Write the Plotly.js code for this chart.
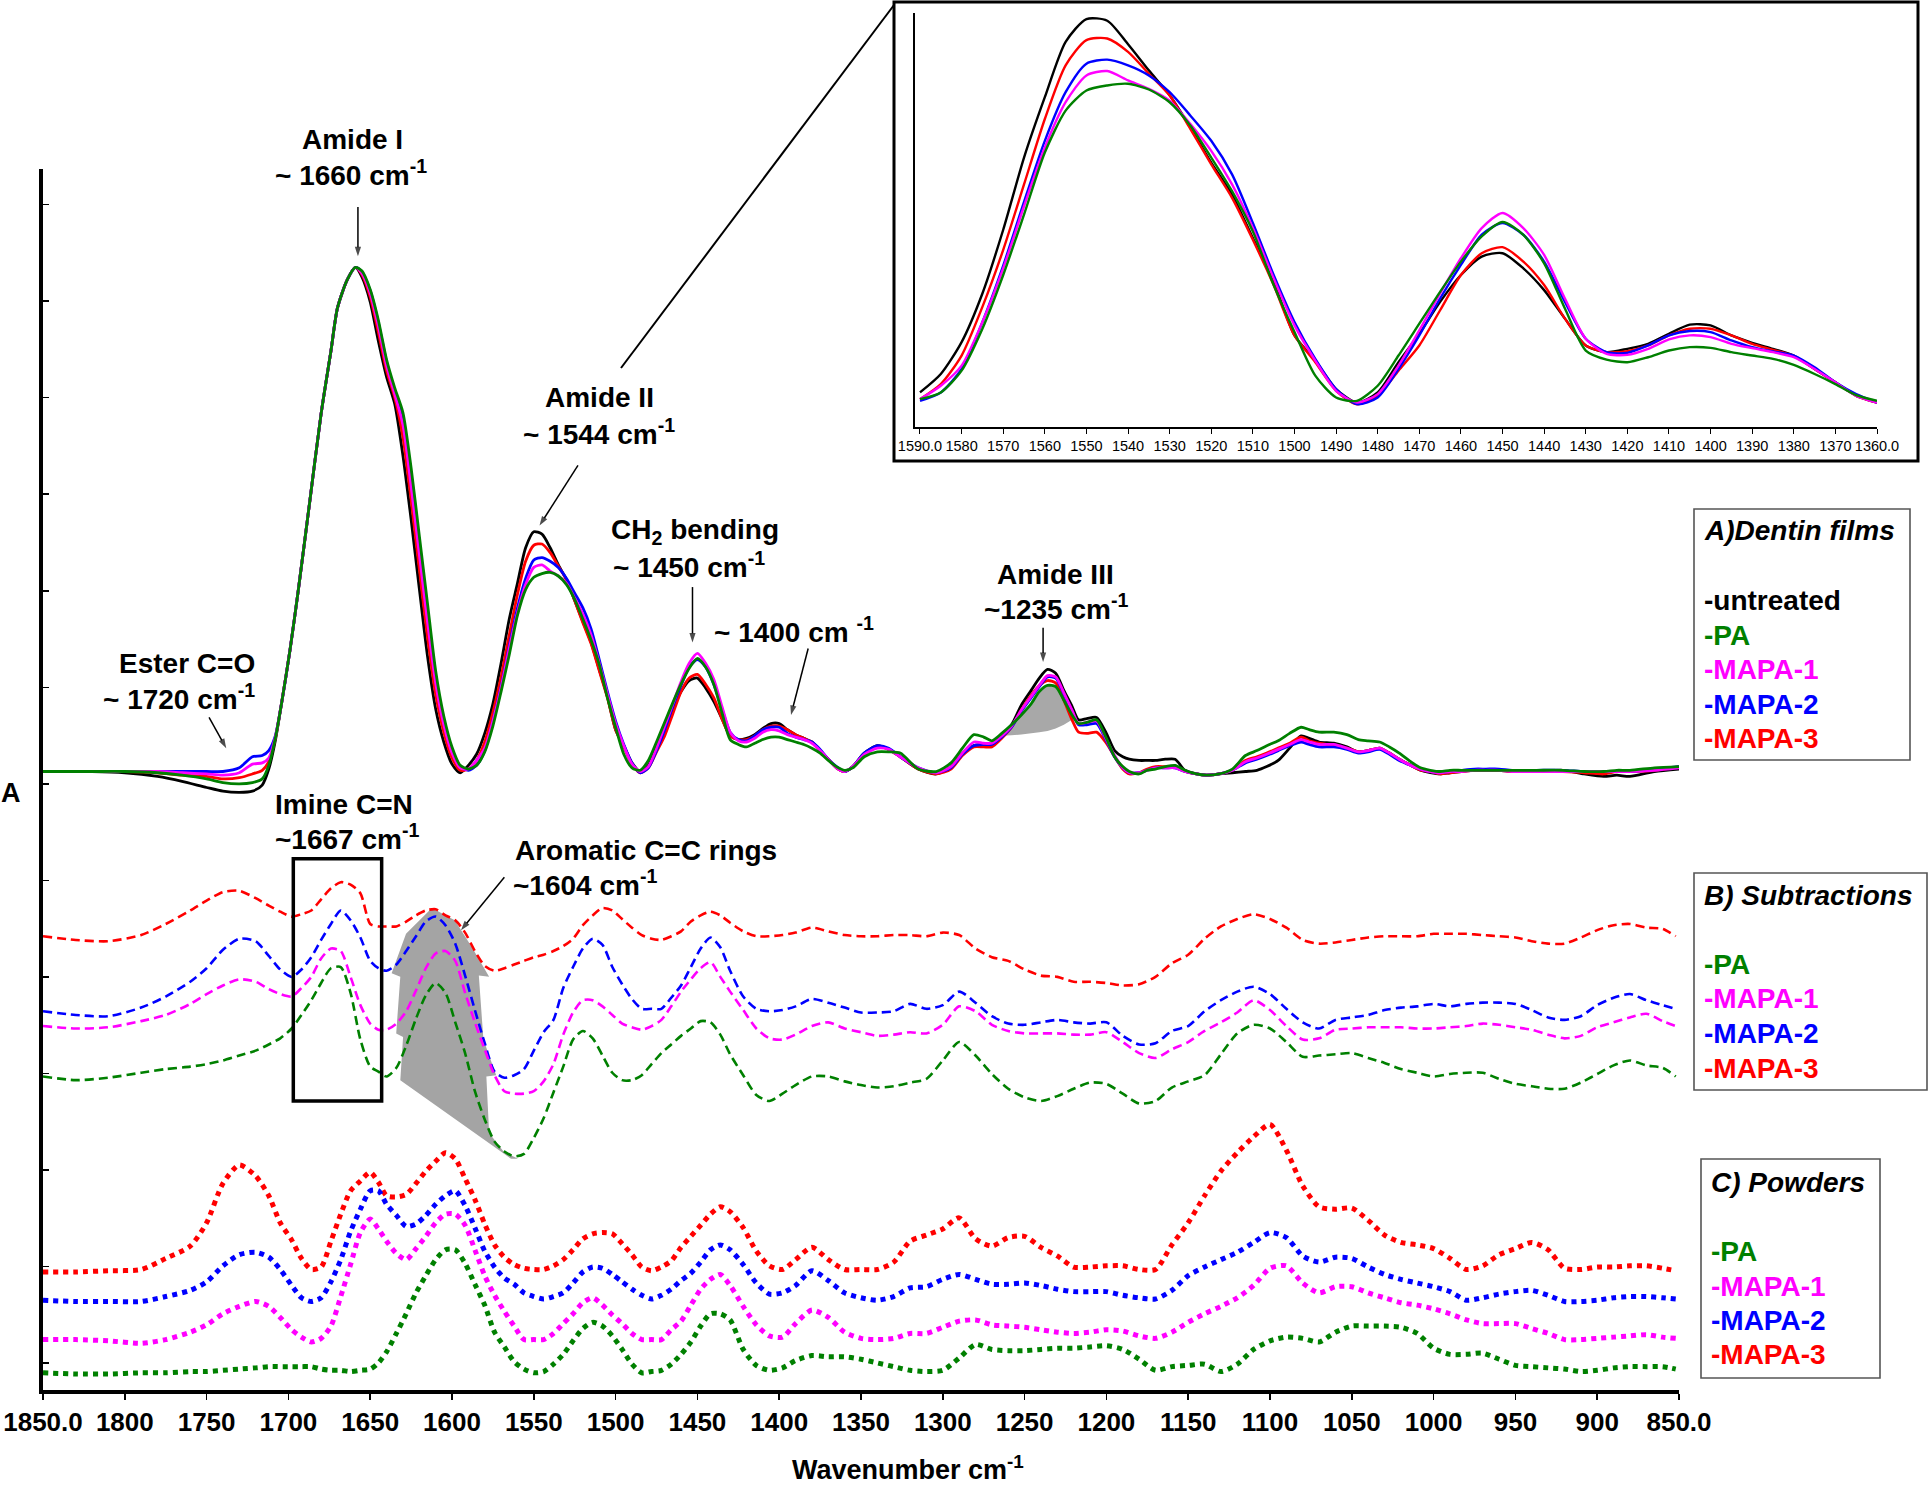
<!DOCTYPE html>
<html><head><meta charset="utf-8">
<script src="https://cdn.plot.ly/plotly-3.0.1.min.js"></script>
<style>html,body{margin:0;padding:0;background:#fff}</style>
</head><body>
<div id="chart" style="width:1929px;height:1492px"></div>
<script>
// ---------------- DATA ----------------
// Panel A: dentin films (solid lines), wavenumber grid
const wnFilms = [1850,1820,1800,1780,1765,1750,1740,1730,1722,1716,1712,1708,1704,1699,1694,1687,1680,1674,1670,1664,1659,1655,1650,1645,1640,1635,1630,1625,1620,1615,1610,1605,1600,1595,
1590,1585,1580,1575,1570,1565,1560,1555,1550,1545,1540,1535,1530,1525,1520,1515,1510,1505,1500,1495,1490,1485,1480,1475,1470,1465,1460,1455,1450,1445,1440,1435,1430,1425,1420,1415,1410,1405,1400,1395,1390,1385,1380,1375,1370,1365,1360,
1355,1348,1340,1333,
1326,1315,1304,1295,1288,1281,1275,1270,1264,1258,1252,1246,1241,1236,1231,1226,1221,1217,1212,1206,1200,1195,1190,1186,1180,1175,1170,1164,1158,1152,1145,1139,1131,1123,1115,1108,1102,1095,1088,1081,1076,1070,1061,1053,1046,1040,1033,1027,1021,1014,1008,1002,996,990,983,975,968,960,952,937,921,908,896,888,880,865,850];

const filmUntreated = [503,503,502,499,495,490,487,486,487,492,505,528,560,602,650,722,794,845,880,903,913,905,885,853,824,802,760,708,652,597,554,527,509,502,
508,517,534,558,591,627,656,685,698,696,685,671,659,642,625,608,586,564,537,524,510,503,508,523,538,554,568,577,579,571,560,546,532,529,530,533,538,542,542,537,533,530,527,520,513,506,503,
507,518,524,521,
515,505,501,507,518,524,525,526,533,541,557,569,579,586,583,569,556,545,546,547,534,520,515,513,512,512,512,513,513,504,501,500,501,502,503,504,507,512,522,532,530,527,526,523,519,520,522,518,513,508,504,502,501,502,503,504,504,504,503,503,504,501,499,500,499,503,505];

const filmPA = [503,503,503,502,500,497,494,493,494,497,508,530,560,602,650,722,794,845,880,903,913,910,895,870,838,815,795,750,695,640,585,548,523,508,
505,508,519,540,568,598,630,651,661,664,665,662,655,643,627,610,590,563,539,517,506,504,512,527,543,559,574,587,595,588,574,551,529,525,523,526,529,531,531,529,527,525,522,518,512,507,504,
506,515,519,519,
518,505,503,510,522,533,531,528,534,541,549,558,568,573,572,561,549,542,543,545,530,515,507,503,501,504,505,507,508,504,501,500,501,505,516,520,524,528,534,539,537,535,535,533,529,528,527,523,518,511,506,504,503,504,504,504,504,504,504,504,504,503,503,504,504,506,507];

const filmMAPA1 = [503,503,503,503,502,501,500,502,509,510,514,531,560,602,650,722,794,845,880,903,913,908,892,865,833,810,785,735,680,625,575,541,518,506,
505,512,522,544,571,603,632,655,669,671,666,662,656,644,631,614,591,566,542,524,509,503,507,522,540,558,576,591,599,591,578,556,535,528,527,530,535,537,536,533,531,529,526,520,513,506,503,
507,517,522,521,
515,506,502,507,518,527,526,526,532,540,553,564,573,581,580,567,553,542,543,544,529,516,506,502,502,504,506,506,506,503,501,500,501,504,511,514,517,521,525,529,527,525,525,522,519,520,522,518,513,508,505,503,502,503,503,504,504,504,503,503,503,503,503,503,503,504,506];

const filmMAPA2 = [503,503,503,503,503,503,503,506,515,516,520,532,560,602,650,722,794,845,880,903,913,909,894,868,836,812,790,742,688,632,580,545,521,507,
504,508,520,544,572,605,636,660,675,677,674,669,660,648,636,619,594,568,544,525,510,502,506,520,537,556,573,588,594,588,574,554,535,529,528,532,537,539,539,534,531,529,527,521,513,507,503,
507,518,524,522,
515,506,502,506,517,524,525,525,531,539,552,563,572,580,579,566,552,541,541,542,528,515,506,502,502,504,506,506,506,503,501,500,501,504,510,513,516,520,524,527,525,523,523,521,518,519,521,517,512,508,505,503,502,503,504,505,505,505,504,504,504,503,503,503,503,505,507];

const filmMAPA3 = [503,503,503,502,500,499,497,498,501,504,511,530,560,602,650,722,794,845,880,903,913,907,889,860,829,807,775,724,668,613,566,535,514,504,
505,512,527,551,580,614,647,674,687,688,681,670,659,642,624,607,585,563,537,523,509,502,506,519,532,550,568,579,582,574,563,546,532,529,529,532,537,540,540,537,533,530,527,520,513,506,503,
507,517,523,521,
515,505,501,505,516,523,523,523,530,539,553,565,573,577,575,561,545,535,534,535,526,515,505,501,502,505,507,507,507,503,501,500,501,504,512,515,518,522,526,531,528,526,524,522,519,520,522,518,513,508,504,503,501,502,503,504,504,504,503,503,503,502,501,503,503,504,507];

// Amide III shaded area (under PA curve)
const amide3ShadeWn = [1264,1258,1252,1246,1241,1236,1231,1226,1221];
const amide3ShadeTop = [534,541,549,558,568,573,572,561,549];
const amide3ShadeBottom = [532,532.5,533,534,535,536,538,541,545];

// Panels B and C share a wavenumber grid
const wnGrid = [1850,1830,1810,1790,1775,1760,1750,1740,1730,1720,1712,1705,1698,1692,1686,1680,1674,1668,1662,1656,1650,1645,1640,1634,1628,1622,1616,1610,1604,1598,1592,1586,1580,1574,1568,1562,1556,1550,1544,1538,1532,1526,1520,1514,1508,1502,1496,1490,1484,1478,1472,1466,1460,1454,1448,1442,1436,1430,1422,1414,1406,1398,1390,1380,1370,1360,1350,1340,1330,1320,1310,
1300,1290,1280,1270,1260,1250,1240,1230,1220,1210,1200,1190,1180,1170,1160,1150,1140,1130,1120,1110,1100,1090,1080,1070,1060,1050,1040,1030,1020,1010,1000,990,980,970,960,950,940,930,920,910,900,890,880,870,860,852];

// Panel B: subtractions (dashed)
const subMAPA3 = [369,366,365,370,379,390,398,405,406,400,394,389,385,387,390,399,408,413,411,404,379,377,377,377,381,386,390,391,386,382,372,357,345,341,343,346,349,352,354,357,361,367,378,386,392,390,383,376,370,367,366,369,373,381,386,389,386,380,373,369,369,370,372,376,373,370,369,369,370,370,369,
372,370,359,352,349,342,337,336,332,332,331,329,330,336,347,354,367,377,383,387,383,376,366,363,364,366,368,369,369,369,371,371,371,370,369,368,365,363,363,368,374,378,379,376,375,369];
const subMAPA2 = [308,305,304,311,320,332,343,358,367,365,353,342,336,342,352,366,379,390,382,368,349,343,341,346,357,369,381,385,378,363,337,309,282,259,254,256,261,276,291,301,327,344,359,367,362,344,330,318,310,310,310,319,329,344,359,368,360,341,320,310,308,309,312,318,315,311,307,307,308,314,310,
313,324,315,304,298,297,299,301,299,298,299,288,281,282,292,296,308,317,324,328,322,310,299,294,301,303,305,309,311,312,314,312,314,315,315,314,309,303,301,304,313,319,322,317,313,310];
const subMAPA1 = [296,294,295,300,305,314,322,329,334,332,326,322,320,327,336,351,359,357,336,313,298,293,293,298,308,325,343,355,357,349,323,299,277,256,243,241,241,243,251,265,289,307,317,317,312,305,298,295,293,296,301,312,324,334,343,348,336,324,309,294,286,285,289,296,299,294,291,288,289,291,290,
297,312,308,297,292,290,290,290,289,289,291,283,274,270,277,283,292,299,307,317,309,296,285,286,293,294,295,295,295,294,294,295,296,298,297,295,293,289,286,288,295,299,303,306,300,296];
const subPA = [255,252,254,258,261,263,265,268,272,276,281,286,294,305,317,331,343,344,323,285,263,259,255,262,280,302,321,331,323,299,274,243,220,202,194,190,192,205,221,242,263,285,292,286,272,258,252,252,256,265,274,281,288,294,300,299,289,273,256,240,235,241,248,255,255,251,248,246,247,250,253,
268,283,272,257,245,238,235,239,245,250,249,241,233,235,246,251,256,273,290,297,294,283,271,272,273,274,270,266,261,258,255,257,258,258,253,249,247,245,245,250,257,264,268,264,262,255];

// Aromatic C=C shaded area outline
const aromShadeWn = [1628.1,1612.3,1598.3,1587.8,1577.3,1583.6,1580.8,1573.0,1579.0,1577.3,1568.5,1559.7,1563.9,1631.6,1629.9,1634.1,1631.6,1636.9];
const aromShadeV  = [371,392,382,360,336,337,285,256,255,209,194,188,188,252,287,290,336,339];

// Panel C: powders (dotted)
const powMAPA3 = [96,96,97,98,107,117,136,168,183,174,158,136,122,107,98,100,121,143,162,170,177,169,158,157,159,168,178,186,193,188,172,155,135,118,108,102,99,98,98,101,106,114,123,127,128,127,119,110,100,97,100,105,116,125,134,143,149,145,132,113,101,98,106,116,106,98,98,98,104,121,126,
131,140,123,117,124,125,116,109,100,100,101,101,98,98,118,136,158,178,193,206,216,195,166,149,147,148,138,126,120,118,115,107,98,101,110,115,120,114,99,98,100,100,101,101,99,97];
const powMAPA2 = [73,72,72,72,76,81,88,101,110,112,108,98,85,75,72,75,88,106,129,147,162,162,151,142,133,135,142,151,158,162,150,132,113,100,91,86,79,76,74,76,79,87,96,100,99,94,88,82,77,74,77,82,89,95,104,114,118,114,102,87,78,79,85,97,89,79,75,73,76,83,84,
90,94,90,86,86,87,85,82,80,80,80,77,75,74,81,93,100,106,112,120,128,124,109,104,108,107,100,94,90,87,84,80,73,75,78,80,81,77,72,72,73,75,76,76,75,74];
const powMAPA1 = [41,41,40,38,41,47,53,62,68,72,68,59,49,43,39,42,52,76,102,128,139,131,121,111,106,115,125,136,143,143,134,114,93,77,64,52,41,41,41,46,54,62,71,75,69,61,54,46,41,41,41,49,56,69,82,90,94,85,68,53,44,43,54,65,59,47,42,41,42,46,46,
51,56,57,53,52,51,49,47,46,47,49,48,44,42,47,55,62,68,75,85,99,101,87,79,84,84,79,75,71,69,66,62,57,54,54,54,50,46,41,41,42,43,44,45,43,42];
const powPA = [14,13,13,14,14,15,15,16,17,18,19,19,19,19,19,17,16,16,15,16,17,22,31,46,62,79,93,106,114,114,103,86,69,47,35,23,17,14,15,21,29,40,50,55,52,44,33,21,14,15,16,21,29,39,52,62,62,57,33,20,16,18,24,28,27,27,25,22,19,16,15,
16,26,37,33,32,32,33,34,34,35,36,33,25,16,19,20,21,15,21,33,40,43,42,39,47,52,52,52,51,46,34,29,29,30,25,20,19,18,17,15,16,18,19,19,19,17];

// Inset (1590-1360 cm-1 zoom)
const wnInset = [1590,1585,1580,1575,1570,1565,1560,1555,1550,1545,1540,1535,1530,1525,1520,1515,1510,1505,1500,1495,1490,1485,1480,1475,1470,1465,1460,1455,1450,1445,1440,1435,1430,1425,1420,1415,1410,1405,1400,1395,1390,1385,1380,1375,1370,1365,1360];
const insetUntreated = [103,158,253,398,588,803,983,1148,1216,1211,1141,1063,989,893,788,693,563,433,273,198,113,73,103,193,278,373,453,508,518,473,408,323,243,223,233,248,278,305,303,273,251,233,213,173,133,93,73];
const insetMAPA3 = [83,128,213,358,528,723,918,1078,1153,1158,1118,1053,988,888,783,683,558,423,273,193,108,68,93,168,243,348,453,518,536,493,423,323,243,223,226,243,273,293,293,273,248,230,211,173,133,93,73];
const insetMAPA2 = [78,103,173,313,481,671,853,998,1083,1095,1078,1048,998,928,853,753,608,453,313,203,113,68,88,173,273,383,483,573,608,573,493,373,263,223,221,243,273,286,283,258,238,225,213,178,133,98,73];
const insetMAPA1 = [83,123,183,313,473,658,833,968,1048,1061,1033,1008,973,903,823,723,593,443,303,198,108,73,98,183,288,398,503,593,638,593,513,383,263,218,215,233,261,273,268,248,235,223,208,173,133,93,73];
const insetPA = [83,103,168,293,453,633,818,943,1003,1018,1023,1006,968,898,803,703,583,423,283,153,88,78,123,213,308,403,493,568,611,573,488,353,228,201,193,208,228,238,236,223,213,203,185,158,128,95,78];

// Tick labels
const mainTickVals = [1850,1800,1750,1700,1650,1600,1550,1500,1450,1400,1350,1300,1250,1200,1150,1100,1050,1000,950,900,850];
const mainTickText = ['1850.0','1800','1750','1700','1650','1600','1550','1500','1450','1400','1350','1300','1250','1200','1150','1100','1050','1000','950','900','850.0'];
const insetTickVals = [1590,1580,1570,1560,1550,1540,1530,1520,1510,1500,1490,1480,1470,1460,1450,1440,1430,1420,1410,1400,1390,1380,1370,1360];
const insetTickText = ['1590.0','1580','1570','1560','1550','1540','1530','1520','1510','1500','1490','1480','1470','1460','1450','1440','1430','1420','1410','1400','1390','1380','1370','1360.0'];

// Peak-marker arrows: [headWn, headValue, tailWn, tailValue]
const peakArrows = [
  [1657.5, 922, 1657.5, 962],
  [1546.5, 703, 1523, 752],
  [1453, 608, 1453, 653],
  [1392.8, 549, 1382.3, 603],
  [1238.7, 592, 1238.7, 620],
  [1738, 522, 1748.5, 547],
  [1594.5, 374, 1568, 417]
];

// ---------------- CHART ----------------
const W = 1929, H = 1492;
const fx = v => v / W;
const fy = v => 1 - v / H;
const FONT = 'Liberation Sans, Arial, Helvetica, sans-serif';
const C = {black:'#000000', green:'#008000', magenta:'#ff00ff', blue:'#0000ff', red:'#ff0000'};

function line(x, y, color, opts) {
  opts = opts || {};
  return {
    type:'scatter', mode:'lines', x:x, y:y,
    xaxis: opts.xa || 'x', yaxis: opts.ya || 'y',
    line:{color:color, width: opts.width || 2.8, dash: opts.dash || 'solid', shape:'spline', smoothing:0.7},
    hoverinfo:'skip'
  };
}

const traces = [];
// shades
traces.push({type:'scatter', mode:'lines', x: amide3ShadeWn.concat(amide3ShadeWn.slice().reverse()),
  y: amide3ShadeTop.concat(amide3ShadeBottom.slice().reverse()), fill:'toself', fillcolor:'#a8a8a8',
  line:{width:0, color:'rgba(0,0,0,0)'}, hoverinfo:'skip'});
traces.push({type:'scatter', mode:'lines', x: aromShadeWn, y: aromShadeV, fill:'toself', fillcolor:'#a4a4a4',
  line:{width:0, color:'rgba(0,0,0,0)'}, hoverinfo:'skip'});

// panel A
traces.push(line(wnFilms, filmUntreated, C.black));
traces.push(line(wnFilms, filmMAPA3, C.red));
traces.push(line(wnFilms, filmMAPA2, C.blue));
traces.push(line(wnFilms, filmMAPA1, C.magenta));
traces.push(line(wnFilms, filmPA, C.green));

// panel B
const dashB = '9px,5px';
traces.push(line(wnGrid, subMAPA3, C.red, {dash:dashB, width:2.6}));
traces.push(line(wnGrid, subMAPA2, C.blue, {dash:dashB, width:2.6}));
traces.push(line(wnGrid, subMAPA1, C.magenta, {dash:dashB, width:2.6}));
traces.push(line(wnGrid, subPA, C.green, {dash:dashB, width:2.6}));

// panel C
const dashC = '5px,5px';
traces.push(line(wnGrid, powMAPA3, C.red, {dash:dashC, width:5}));
traces.push(line(wnGrid, powMAPA2, C.blue, {dash:dashC, width:5}));
traces.push(line(wnGrid, powMAPA1, C.magenta, {dash:dashC, width:5}));
traces.push(line(wnGrid, powPA, C.green, {dash:dashC, width:5}));

// inset
traces.push(line(wnInset, insetUntreated, C.black, {xa:'x2', ya:'y2', width:2.4}));
traces.push(line(wnInset, insetMAPA3, C.red, {xa:'x2', ya:'y2', width:2.4}));
traces.push(line(wnInset, insetMAPA2, C.blue, {xa:'x2', ya:'y2', width:2.4}));
traces.push(line(wnInset, insetMAPA1, C.magenta, {xa:'x2', ya:'y2', width:2.4}));
traces.push(line(wnInset, insetPA, C.green, {xa:'x2', ya:'y2', width:2.4}));

// arrows as line+arrow-marker traces
peakArrows.forEach(a => traces.push({
  type:'scatter', mode:'lines+markers', x:[a[2], a[0]], y:[a[3], a[1]],
  line:{color:'#000', width:1.5},
  marker:{symbol:'arrow', angleref:'previous', size:[0, 10], color:'#000', line:{width:0}},
  hoverinfo:'skip'
}));

// annotations
const annFont = {family:FONT, size:28, color:'#000'};
const labels = [
  ['<b>~ 1660 cm<sup>-1</sup></b>', 1662, 990],
  ['<b>Amide II</b>', 1510, 807],
  ['<b>~ 1544 cm<sup>-1</sup></b>', 1510, 779],
  ['<b>CH<sub>2</sub> bending</b>', 1451.5, 698],
  ['<b>~ 1450 cm<sup>-1</sup></b>', 1455, 671],
  ['<b>~ 1400 cm <sup>-1</sup></b>', 1391, 618],
  ['<b>Amide III</b>', 1231, 663],
  ['<b>~1235 cm<sup>-1</sup></b>', 1231, 637],
  ['<b>Ester C=O</b>', 1762, 591],
  ['<b>~ 1720 cm<sup>-1</sup></b>', 1767, 564],
  ['<b>Imine C=N</b>', 1666, 476],
  ['<b>~1667 cm<sup>-1</sup></b>', 1664, 450],
  ['<b>Aromatic C=C rings</b>', 1481.6, 439],
  ['<b>~1604 cm<sup>-1</sup></b>', 1519, 412]
];
const annotations = [];
labels.forEach(l => annotations.push({text:l[0], x:l[1], y:l[2], xref:'x', yref:'y', showarrow:false,
  xanchor:'center', yanchor:'middle', font:annFont}));
// "Amide I" sits above the axis range -> paper coords
annotations.push({text:'<b>Amide I</b>', x:fx(352), y:fy(139), xref:'paper', yref:'paper', showarrow:false,
  xanchor:'center', yanchor:'middle', font:annFont});

// legend boxes (text)
function legendText(txt, x, y, color) {
  annotations.push({text:txt, x:fx(x), y:fy(y), xref:'paper', yref:'paper', xanchor:'left', yanchor:'middle',
    showarrow:false, font:{family:FONT, size:28, color:color}});
}
legendText('<b><i>A)Dentin films</i></b>', 1702, 531, '#000');
legendText('<b>-untreated</b>', 1702, 600, C.black);
legendText('<b>-PA</b>', 1702, 635, C.green);
legendText('<b>-MAPA-1</b>', 1702, 669, C.magenta);
legendText('<b>-MAPA-2</b>', 1702, 704, C.blue);
legendText('<b>-MAPA-3</b>', 1702, 738, C.red);
legendText('<b><i>B) Subtractions</i></b>', 1702, 896, '#000');
legendText('<b>-PA</b>', 1702, 964, C.green);
legendText('<b>-MAPA-1</b>', 1702, 999, C.magenta);
legendText('<b>-MAPA-2</b>', 1702, 1033, C.blue);
legendText('<b>-MAPA-3</b>', 1702, 1068, C.red);
legendText('<b><i>C) Powders</i></b>', 1709, 1182, '#000');
legendText('<b>-PA</b>', 1709, 1251, C.green);
legendText('<b>-MAPA-1</b>', 1709, 1286, C.magenta);
legendText('<b>-MAPA-2</b>', 1709, 1320, C.blue);
legendText('<b>-MAPA-3</b>', 1709, 1354, C.red);

// axis labels
annotations.push({text:'<b>A</b>', x:fx(11), y:fy(793), xref:'paper', yref:'paper', showarrow:false,
  xanchor:'center', yanchor:'middle', font:{family:FONT, size:27, color:'#000'}});
annotations.push({text:'<b>Wavenumber cm<sup>-1</sup></b>', x:fx(908), y:fy(1468), xref:'paper', yref:'paper', showarrow:false,
  xanchor:'center', yanchor:'middle', font:{family:FONT, size:27, color:'#000'}});

const shapes = [
  // inset frame
  {type:'rect', xref:'paper', yref:'paper', x0:fx(894), x1:fx(1918), y0:fy(461), y1:fy(2), line:{color:'#000', width:3}},
  // connector line from Amide II to inset
  {type:'line', xref:'paper', yref:'paper', x0:fx(621), y0:fy(368), x1:fx(894), y1:fy(5), line:{color:'#000', width:2}},
  // imine box
  {type:'rect', xref:'x', yref:'y', x0:1697, x1:1643, y0:235, y1:432, line:{color:'#000', width:3.5}},
  // legend frames
  {type:'rect', xref:'paper', yref:'paper', x0:fx(1694), x1:fx(1910), y0:fy(760), y1:fy(509), line:{color:'#555', width:1.6}},
  {type:'rect', xref:'paper', yref:'paper', x0:fx(1694), x1:fx(1927), y0:fy(1090), y1:fy(873), line:{color:'#555', width:1.6}},
  {type:'rect', xref:'paper', yref:'paper', x0:fx(1701), x1:fx(1880), y0:fy(1378), y1:fy(1159), line:{color:'#555', width:1.6}}
];

const layout = {
  width:W, height:H, margin:{l:0, r:0, t:0, b:0, pad:0},
  paper_bgcolor:'#fff', plot_bgcolor:'rgba(0,0,0,0)', showlegend:false, hovermode:false,
  xaxis:{domain:[fx(43), fx(1679)], range:[1850, 850], anchor:'y', showgrid:false, zeroline:false,
    showline:true, linecolor:'#000', linewidth:4, ticks:'outside', ticklen:6, tickwidth:1.5, tickcolor:'#000',
    tickmode:'array', tickvals:mainTickVals, ticktext:mainTickText.map(t => '<b>' + t + '</b>'),
    tickangle:0, tickfont:{family:FONT, size:26, color:'#000'}},
  yaxis:{domain:[fy(1390), fy(169)], range:[0, 993], anchor:'x', showgrid:false, zeroline:false,
    showline:true, linecolor:'#000', linewidth:4, showticklabels:false, ticks:'inside', ticklen:6, tickwidth:1.5,
    tickcolor:'#000', tick0:22, dtick:78.5},
  xaxis2:{domain:[fx(915), fx(1877)], range:[1591.2, 1360], anchor:'y2', showgrid:false, zeroline:false,
    showline:true, linecolor:'#000', linewidth:2, ticks:'outside', ticklen:5, tickwidth:1, tickcolor:'#000',
    tickmode:'array', tickvals:insetTickVals, ticktext:insetTickText,
    tickangle:0, tickfont:{family:FONT, size:14.5, color:'#000'}},
  yaxis2:{domain:[fy(427), fy(13)], range:[0, 1234], anchor:'x2', showgrid:false, zeroline:false,
    showline:true, linecolor:'#000', linewidth:2, showticklabels:false, ticks:''},
  annotations:annotations,
  shapes:shapes
};

Plotly.newPlot('chart', traces, layout, {staticPlot:true, displayModeBar:false});
</script>
</body></html>
